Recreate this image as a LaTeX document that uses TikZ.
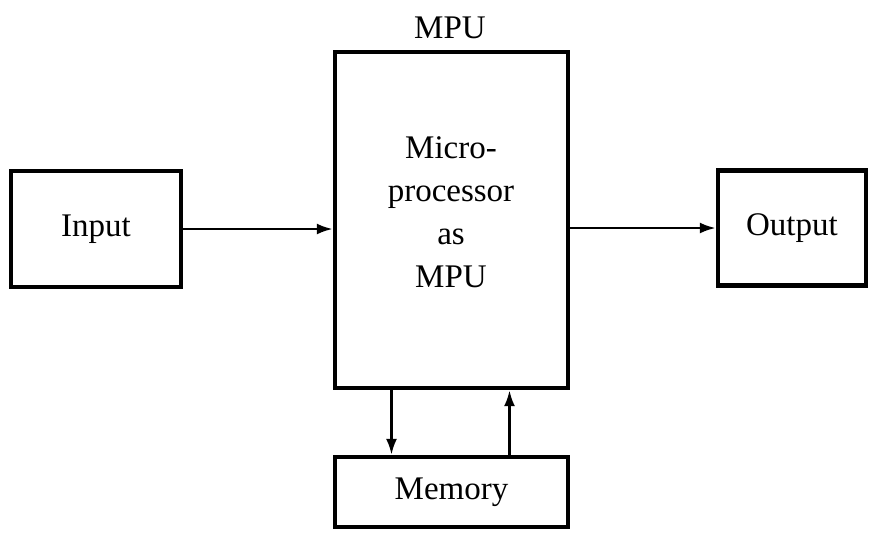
\documentclass[tikz,border=0pt]{standalone}
\usepackage{fontspec}
\setmainfont{Liberation Serif}
\usetikzlibrary{arrows.meta,positioning}
\tikzset{
  block/.style={draw,line width=2.2pt,inner sep=0pt,font=\fontsize{16.5}{21.5}\selectfont},
  flow/.style={line width=1.3pt,-{Latex[length=8pt,width=5.5pt]}}
}

\begin{document}
\begin{tikzpicture}[x=0.5pt,y=-0.5pt]
  \useasboundingbox (0,0) rectangle (874,532);
  % blocks
  \node[block,minimum width=85pt,minimum height=58pt] (input) at (96,229) {Input};
  \node[block,minimum width=116.5pt,minimum height=168pt] (mpu) at (451.5,220) {};
  \node[font=\fontsize{16.5}{21.5}\selectfont,align=center] (mputext) at (451,212) {Micro-\\processor\\as\\MPU};
  \node[font=\fontsize{16.5}{21.5}\selectfont,anchor=base] (mpulabel) at (450,38) {MPU};
  \node[block,minimum width=74pt,minimum height=57.5pt] (output) at (792,228) {Output};
  \node[block,minimum width=116.5pt,minimum height=35pt] (memory) at (451.5,492) {Memory};
  % connections
  \draw[flow] (input.east) -- (input.east -| mpu.west);
  \draw[flow] (output.west -| mpu.east) -- (output.west);
  \draw[flow] ([xshift=-30pt]mpu.south) -- ([xshift=-30pt]memory.north);
  \draw[flow] ([xshift=29pt]memory.north) -- ([xshift=29pt]mpu.south);
\end{tikzpicture}
\end{document}
